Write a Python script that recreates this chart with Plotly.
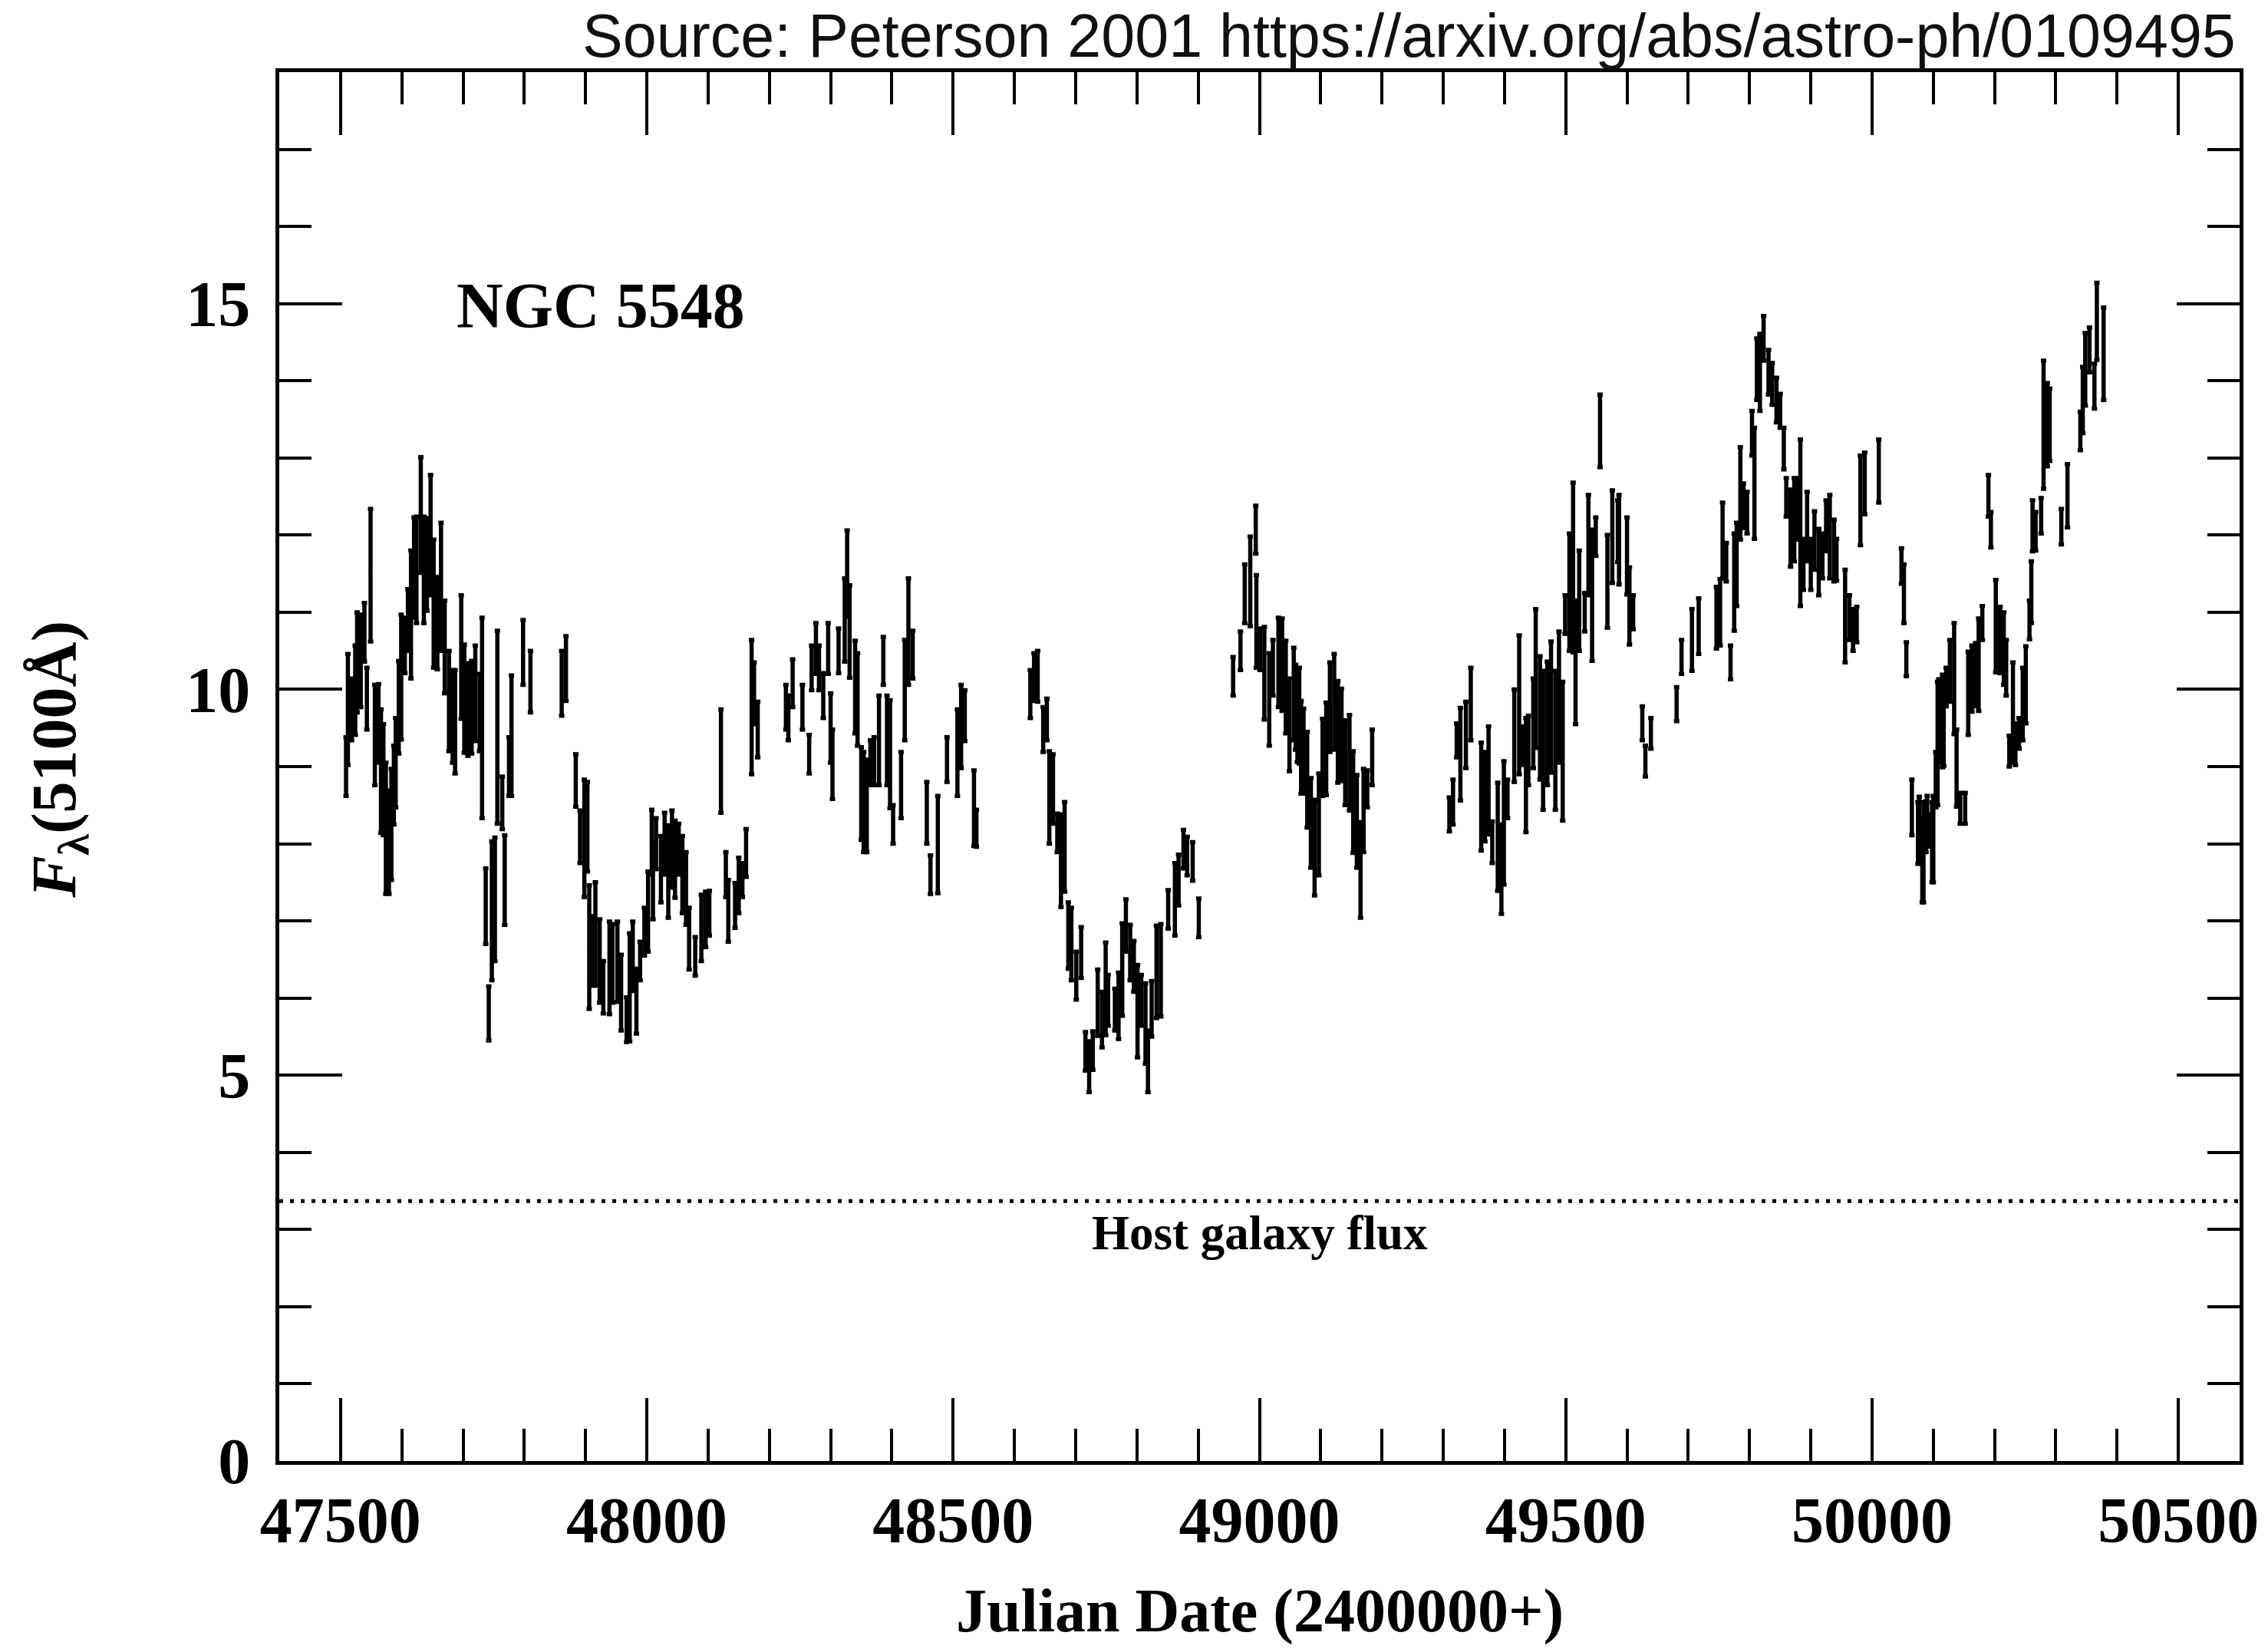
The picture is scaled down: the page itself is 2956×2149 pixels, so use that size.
import plotly.graph_objects as go

# ---- data (Julian Date - 2400000, flux, 1-sigma error) ----
JD = [
    47509, 47512, 47518, 47524, 47527, 47533, 47539, 47543, 47549, 47556, 47562, 47566, 47570, 47574, 47579,
    47583, 47587, 47590, 47595, 47599, 47605, 47610, 47615, 47620, 47624, 47631, 47636, 47641, 47647, 47652,
    47658, 47664, 47670, 47677, 47683, 47687, 47697, 47702, 47708, 47714, 47720, 47727, 47731, 47737, 47742,
    47747, 47752, 47756, 47764, 47768, 47775, 47779, 47798, 47810, 47861, 47868,
    47884, 47891, 47898, 47903, 47906, 47912, 47916, 47923, 47929, 47939, 47944, 47952, 47958, 47967, 47972,
    47977, 47983, 47989, 47996, 48002, 48008, 48010, 48015, 48023, 48029, 48035, 48041, 48046, 48052, 48058,
    48064, 48069, 48079, 48089, 48096, 48102, 48121, 48129, 48133, 48144, 48150, 48156, 48162,
    48171, 48175, 48181, 48227, 48231, 48238, 48254, 48265, 48269, 48276, 48281, 48288, 48296, 48300, 48303,
    48313, 48323, 48327, 48331, 48340, 48344, 48350, 48354, 48359, 48365, 48371, 48379, 48386, 48392, 48397,
    48402, 48415, 48421, 48427, 48434, 48457, 48463, 48475, 48490, 48507, 48513, 48519, 48534, 48538,
    48626, 48632, 48638, 48647, 48653, 48657, 48663, 48670, 48676, 48682, 48688, 48693, 48701, 48709, 48716,
    48722, 48728, 48736, 48743, 48749, 48753, 48764, 48770, 48776, 48782, 48789, 48795, 48801, 48807, 48814,
    48818, 48824, 48832, 48839, 48851, 48862, 48868, 48876, 48882, 48891, 48901,
    48957, 48969, 48976, 48985, 48994, 48995, 49001, 49008, 49016, 49022, 49031, 49037, 49043, 49049, 49056,
    49059, 49062, 49065, 49068, 49072, 49078, 49084, 49090, 49097, 49103, 49109, 49115, 49122, 49128, 49134,
    49140, 49147, 49153, 49159, 49165, 49170, 49176, 49184,
    49310, 49316, 49322, 49328, 49337, 49345, 49362, 49368, 49374, 49380, 49389, 49395, 49399, 49405, 49416,
    49424, 49430, 49435, 49439, 49447, 49451, 49458, 49463, 49470, 49476, 49483, 49489, 49495, 49499, 49506,
    49512, 49516, 49522, 49531, 49537, 49543, 49549, 49556, 49568, 49576, 49585, 49587, 49600, 49604, 49610,
    49625, 49630, 49639, 49681, 49689, 49706, 49717, 49746, 49752, 49756, 49762, 49769, 49775, 49779, 49785,
    49790, 49796, 49804, 49808, 49812, 49817, 49823, 49831, 49837, 49844, 49850, 49856, 49860, 49867, 49873,
    49879, 49883, 49888, 49894, 49900, 49906, 49913, 49919, 49925, 49931, 49938, 49942, 49956, 49963, 49969,
    49975, 49981, 49988, 50011, 50048, 50052, 50056,
    50065, 50075, 50077, 50082, 50084, 50088, 50090, 50094, 50098, 50100, 50104, 50107, 50109, 50115, 50117,
    50121, 50127, 50134, 50138, 50144, 50152, 50157, 50163, 50169, 50174, 50180, 50190, 50194, 50202, 50209,
    50215, 50219, 50224, 50230, 50234, 50240, 50246, 50251, 50257, 50260, 50262, 50267, 50276, 50280, 50286,
    50290, 50309, 50319, 50340, 50344, 50348, 50355, 50363, 50367, 50378,
]

FLUX = [
    9.00, 9.74, 9.74, 9.99, 10.35, 10.37, 10.74, 9.88, 11.48, 9.41, 9.56, 8.94, 8.83, 8.20, 8.02,
    8.25, 8.76, 9.05, 9.77, 10.16, 10.57, 10.90, 10.97, 11.58, 11.55, 12.26, 11.55, 11.62, 12.00, 11.11,
    10.86, 11.33, 10.55, 9.85, 9.65, 9.58, 10.42, 9.88, 9.74, 9.77, 9.95, 9.70, 9.63, 7.19, 5.80,
    7.13, 7.28, 9.51, 8.53, 7.53, 9.00, 9.40, 10.48, 10.10, 10.08, 10.27,
    8.82, 8.09, 8.07, 8.22, 6.66, 6.61, 6.83, 6.48, 6.14, 6.39, 6.45, 6.47, 6.07, 5.72, 6.14,
    6.54, 5.96, 6.48, 6.86, 7.12, 8.02, 7.52, 8.00, 7.67, 8.00, 7.64, 7.93, 7.80, 7.93, 7.60,
    7.42, 6.77, 6.54, 6.91, 7.02, 7.10, 9.07, 7.60, 7.13, 7.20, 7.46, 7.53, 7.88,
    9.77, 9.95, 9.48, 9.77, 9.63, 10.08, 9.77, 9.16, 10.28, 10.53, 10.28, 9.92, 10.53, 9.50, 9.03,
    10.50, 10.90, 11.50, 10.75, 10.03, 9.87, 8.65, 8.54, 8.49, 9.05, 9.07, 9.34, 10.37, 9.34, 9.16,
    8.25, 8.76, 9.99, 10.75, 10.45, 8.40, 7.60, 7.99, 9.09, 9.18, 9.52, 9.66, 8.46, 8.20,
    9.94, 10.16, 10.17, 9.48, 9.61, 8.60, 8.71, 8.14, 7.78, 7.96, 6.81, 6.70, 6.29, 6.59, 5.31,
    5.11, 5.32, 5.94, 5.72, 6.12, 5.97, 5.85, 5.90, 6.37, 6.94, 6.59, 6.41, 5.83, 5.97, 5.67,
    5.18, 5.86, 6.34, 6.36, 7.15, 7.28, 7.53, 7.93, 7.84, 7.77, 7.04,
    10.17, 10.50, 11.24, 11.40, 12.07, 10.88, 10.52, 10.21, 9.87, 10.28, 10.35, 10.32, 10.03, 9.54, 9.94,
    9.77, 9.66, 9.66, 9.25, 9.20, 8.83, 8.27, 7.95, 8.25, 9.12, 9.23, 9.77, 9.84, 9.45, 9.41,
    9.05, 9.05, 8.54, 8.29, 7.66, 8.43, 8.71, 9.12,
    8.38, 8.54, 9.34, 9.16, 9.41, 9.81, 8.61, 8.61, 8.82, 8.02, 8.09, 7.67, 8.27, 8.58, 9.40,
    9.80, 9.27, 8.89, 9.21, 9.56, 10.14, 9.63, 9.34, 9.56, 9.77, 9.34, 9.90, 9.20, 10.97, 11.26,
    11.58, 10.35, 11.15, 11.00, 11.87, 11.22, 11.98, 13.35, 11.40, 11.98, 12.05, 11.94, 11.73, 11.08, 11.00,
    9.56, 9.07, 9.43, 9.81, 10.42, 10.64, 10.82, 10.93, 11.00, 11.93, 11.65, 10.35, 11.39, 11.62, 12.54,
    12.38, 12.29, 13.32, 12.67, 14.15, 14.11, 14.55, 14.11, 13.96, 13.75, 13.61, 13.12, 12.49, 12.09, 12.20,
    12.34, 12.16, 11.62, 12.11, 11.62, 11.93, 11.65, 11.73, 12.12, 11.98, 11.80, 11.68, 10.95, 10.93, 10.77,
    10.84, 12.45, 12.67, 12.83, 11.60, 11.24, 10.39,
    8.47, 8.14, 8.18, 7.78, 7.89, 8.22, 8.29, 8.18, 8.02, 8.06, 8.83, 9.30, 9.59, 9.59, 9.59,
    10.03, 10.24, 10.14, 8.98, 8.46, 8.46, 9.95, 10.14, 10.19, 10.32, 10.86, 12.51, 12.07, 10.82, 10.64,
    10.53, 10.28, 9.20, 9.70, 9.29, 9.43, 9.81, 10.06, 10.90, 11.26, 12.12, 12.05, 12.25, 13.43, 13.43,
    13.43, 12.11, 12.51, 13.35, 13.75, 14.15, 14.40, 13.93, 14.77, 14.35,
]

ERR = [
    0.38, 0.72, 0.40, 0.58, 0.65, 0.60, 0.38, 0.40, 0.86, 0.65, 0.51, 0.80, 0.72, 0.85, 0.67,
    0.72, 0.51, 0.58, 0.60, 0.81, 0.36, 0.40, 0.83, 0.65, 0.69, 0.75, 0.69, 0.60, 0.78, 0.83,
    0.60, 0.83, 0.60, 0.65, 0.60, 0.67, 0.80, 0.70, 0.60, 0.60, 0.62, 0.50, 1.30, 0.49, 0.35,
    0.90, 0.80, 1.25, 0.34, 0.58, 0.38, 0.78, 0.42, 0.40, 0.42, 0.42,
    0.34, 0.34, 0.76, 0.58, 0.80, 0.45, 0.67, 0.54, 0.34, 0.60, 0.51, 0.52, 0.49, 0.29, 0.70,
    0.45, 0.42, 0.25, 0.31, 0.52, 0.42, 0.50, 0.33, 0.43, 0.40, 0.60, 0.50, 0.50, 0.33, 0.50,
    0.47, 0.40, 0.25, 0.43, 0.36, 0.29, 0.67, 0.29, 0.40, 0.29, 0.36, 0.22, 0.31,
    0.87, 0.40, 0.36, 0.29, 0.29, 0.31, 0.29, 0.25, 0.29, 0.33, 0.29, 0.29, 0.33, 0.45, 0.45,
    0.29, 0.54, 0.56, 0.60, 0.60, 0.60, 0.60, 0.65, 0.60, 0.29, 0.31, 0.58, 0.31, 0.58, 0.70,
    0.25, 0.43, 0.65, 0.69, 0.31, 0.40, 0.25, 0.63, 0.29, 0.56, 0.54, 0.33, 0.49, 0.24,
    0.31, 0.31, 0.33, 0.29, 0.27, 0.60, 0.45, 0.25, 0.60, 0.58, 0.43, 0.47, 0.31, 0.33, 0.25,
    0.33, 0.25, 0.43, 0.36, 0.60, 0.33, 0.27, 0.43, 0.60, 0.34, 0.36, 0.33, 0.60, 0.33, 0.52,
    0.40, 0.36, 0.60, 0.60, 0.25, 0.47, 0.33, 0.25, 0.25, 0.25, 0.25,
    0.25, 0.25, 0.38, 0.58, 0.31, 0.60, 0.27, 0.60, 0.60, 0.36, 0.58, 0.60, 0.60, 0.60, 0.60,
    0.55, 0.60, 0.62, 0.60, 0.55, 0.62, 0.58, 0.62, 0.66, 0.50, 0.60, 0.58, 0.62, 0.66, 0.60,
    0.55, 0.62, 0.66, 0.60, 0.62, 0.54, 0.24, 0.36,
    0.22, 0.29, 0.22, 0.60, 0.43, 0.47, 0.70, 0.58, 0.70, 0.27, 0.70, 0.58, 0.80, 0.25, 0.60,
    0.90, 0.25, 0.74, 0.45, 0.58, 0.90, 0.80, 0.90, 0.80, 0.85, 0.90, 0.85, 0.90, 0.25, 0.76,
    1.10, 0.80, 0.65, 0.25, 0.65, 0.85, 0.25, 0.47, 0.60, 0.60, 0.40, 0.58, 0.50, 0.50, 0.22,
    0.22, 0.20, 0.20, 0.22, 0.22, 0.40, 0.36, 0.40, 0.43, 0.49, 0.25, 0.22, 0.63, 0.54, 0.60,
    0.29, 0.27, 0.29, 0.72, 0.40, 0.50, 0.29, 0.29, 0.27, 0.29, 0.22, 0.27, 0.25, 0.50, 0.54,
    0.40, 1.08, 0.33, 0.45, 0.33, 0.38, 0.43, 0.29, 0.33, 0.54, 0.40, 0.27, 0.60, 0.29, 0.27,
    0.23, 0.58, 0.40, 0.41, 0.23, 0.38, 0.22,
    0.36, 0.40, 0.43, 0.54, 0.65, 0.33, 0.33, 0.20, 0.52, 0.56, 0.36, 0.80, 0.54, 0.60, 0.58,
    0.25, 0.40, 0.72, 0.50, 0.20, 0.20, 0.54, 0.43, 0.41, 0.60, 0.22, 0.27, 0.23, 0.60, 0.43,
    0.47, 0.36, 0.20, 0.65, 0.27, 0.20, 0.47, 0.50, 0.25, 0.40, 0.33, 0.25, 0.23, 0.83, 0.54,
    0.47, 0.23, 0.41, 0.25, 0.43, 0.47, 0.29, 0.29, 0.50, 0.60,
]

HOST_FLUX = 3.37
X_RANGE = [47400, 50600]
Y_RANGE = [0, 18]
X_TICKS = [47500, 48000, 48500, 49000, 49500, 50000, 50500]
Y_TICKS = [0, 5, 10, 15]

SERIF = "Liberation Serif, Times New Roman, serif"
SANS = "Liberation Sans, Arial, Helvetica, sans-serif"

fig = go.Figure()

fig.add_trace(go.Scatter(
    x=JD, y=FLUX, mode="markers",
    marker=dict(size=4, color="black"),
    error_y=dict(type="data", array=ERR, visible=True,
                 color="black", thickness=5.5, width=3.5),
    showlegend=False, hoverinfo="skip",
))

# host galaxy flux level (dotted line across the full plot width)
fig.add_shape(type="line", xref="paper", x0=0, x1=1, yref="y",
              y0=HOST_FLUX, y1=HOST_FLUX,
              line=dict(color="black", width=5, dash="5px,9px"))

fig.add_annotation(x=49000, y=HOST_FLUX - 0.42, xref="x", yref="y",
                   text="Host galaxy flux", showarrow=False,
                   xanchor="center", yanchor="middle",
                   font=dict(family=SERIF, size=63, color="black", weight="bold"))

fig.add_annotation(x=47925, y=14.97, xref="x", yref="y",
                   text="NGC 5548", showarrow=False,
                   xanchor="center", yanchor="middle",
                   font=dict(family=SERIF, size=84, color="black", weight="bold"))

fig.add_annotation(x=0.5, y=-0.108, xref="paper", yref="paper",
                   text="Julian Date (2400000+)", showarrow=False,
                   xanchor="center", yanchor="middle",
                   font=dict(family=SERIF, size=80, color="black", weight="bold"))

fig.add_annotation(x=-0.1128, y=0.505, xref="paper", yref="paper",
                   text="<i>F</i><sub>λ</sub>(5100Å)", showarrow=False, textangle=-90,
                   xanchor="center", yanchor="middle",
                   font=dict(family=SERIF, size=82, color="black", weight="bold"))

fig.add_annotation(x=0.999, y=1.0265, xref="paper", yref="paper",
                   text="Source: Peterson 2001 https://arxiv.org/abs/astro-ph/0109495",
                   showarrow=False, xanchor="right", yanchor="middle",
                   font=dict(family=SANS, size=79, color="#111111"))

axis_common = dict(
    showline=True, linecolor="black", linewidth=5, mirror="ticks",
    ticks="inside", tickcolor="black", tickwidth=4, ticklen=82,
    showgrid=False, zeroline=False,
    tickfont=dict(family=SERIF, size=84, color="black", weight="bold"),
)

fig.update_xaxes(
    range=X_RANGE, tickmode="array", tickvals=X_TICKS,
    ticktext=[str(v) for v in X_TICKS], ticklabelstandoff=0,
    minor=dict(ticks="inside", dtick=100, tick0=47500, ticklen=42,
               tickwidth=4, tickcolor="black", showgrid=False),
    **axis_common,
)
fig.update_yaxes(
    range=Y_RANGE, tickmode="array", tickvals=Y_TICKS,
    ticktext=[str(v) for v in Y_TICKS], ticklabelstandoff=16,
    minor=dict(ticks="inside", dtick=1, tick0=0, ticklen=42,
               tickwidth=4, tickcolor="black", showgrid=False),
    **axis_common,
)

fig.update_layout(
    width=2956, height=2149,
    margin=dict(l=364, r=30, t=94, b=245),
    paper_bgcolor="white", plot_bgcolor="white",
    showlegend=False,
)

fig.write_html("out.html")
